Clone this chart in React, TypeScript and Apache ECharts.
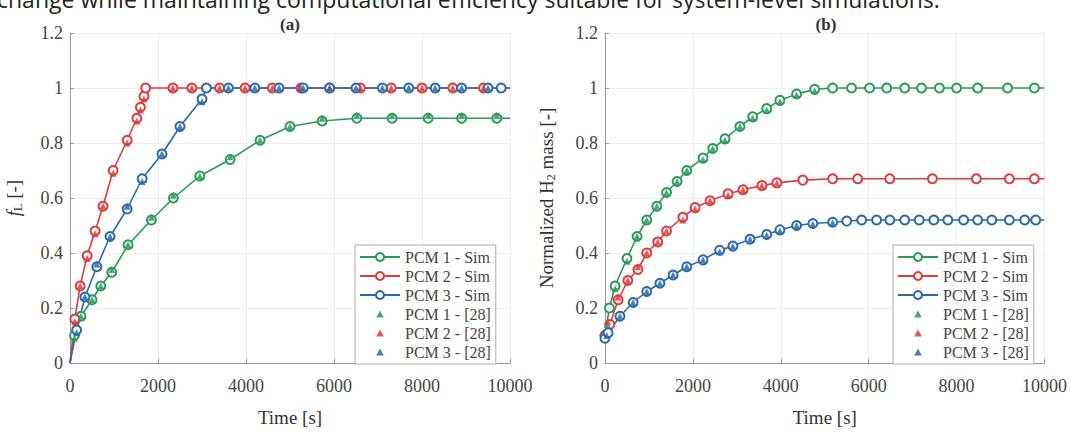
import React, { useEffect, useRef } from "react";
import * as echarts from "echarts";

const seriesNames = ["PCM 1 - Sim", "PCM 2 - Sim", "PCM 3 - Sim", "PCM 1 - [28]", "PCM 2 - [28]", "PCM 3 - [28]"];
const xTicksMax = 10000;
const yTicksMax = 1.2;

// (a) liquid fraction
const aGreenT = [0, 100, 250, 500, 700, 950, 1320, 1850, 2350, 2950, 3640, 4320, 5000, 5730, 6520, 7320, 8140, 8900, 9700, 10000];
const aGreenV = [0, 0.1, 0.17, 0.23, 0.28, 0.33, 0.43, 0.52, 0.6, 0.68, 0.74, 0.81, 0.86, 0.88, 0.89, 0.89, 0.89, 0.89, 0.89, 0.89];
const aRedT = [0, 110, 230, 390, 570, 750, 980, 1300, 1520, 1600, 1680, 1720, 2340, 2770, 3400, 3980, 4600, 5250, 5900, 6600, 7300, 8000, 8700, 9400, 10000];
const aRedV = [0, 0.16, 0.28, 0.39, 0.48, 0.57, 0.7, 0.81, 0.89, 0.93, 0.97, 1, 1, 1, 1, 1, 1, 1, 1, 1, 1, 1, 1, 1, 1];
const aBlueT = [0, 150, 340, 610, 910, 1300, 1640, 2090, 2500, 3000, 3100, 3600, 4200, 4750, 5300, 5900, 6500, 7100, 7700, 8300, 8900, 9500, 9800, 10000];
const aBlueV = [0, 0.12, 0.24, 0.35, 0.46, 0.56, 0.67, 0.76, 0.86, 0.96, 1, 1, 1, 1, 1, 1, 1, 1, 1, 1, 1, 1, 1, 1];
const aGreen28T = [100, 250, 500, 700, 950, 1320, 1850, 2350, 2950, 3640, 4320, 5000, 5730, 6520, 7320, 8140, 8900, 9700];
const aGreen28V = [0.09, 0.17, 0.23, 0.28, 0.34, 0.43, 0.53, 0.61, 0.68, 0.75, 0.81, 0.86, 0.89, 0.9, 0.9, 0.9, 0.9, 0.9];
const aRed28T = [110, 230, 390, 570, 750, 980, 1300, 1520, 1600, 1680, 2340, 2770, 3400, 3980, 4600, 5250, 5900, 6600, 7300, 8000, 8700, 9400];
const aRed28V = [0.15, 0.28, 0.38, 0.47, 0.57, 0.69, 0.8, 0.88, 0.92, 0.96, 1, 1, 1, 1, 1, 1, 1, 1, 1, 1, 1, 1];
const aBlue28T = [150, 340, 610, 910, 1300, 1640, 2090, 2500, 3000, 3600, 4200, 4750, 5300, 5900, 6500, 7100, 7700, 8300, 8900, 9500];
const aBlue28V = [0.11, 0.24, 0.36, 0.46, 0.57, 0.66, 0.76, 0.86, 0.95, 1, 1, 1, 1, 1, 1, 1, 1, 1, 1, 1];

// (b) normalized H2 mass
const bGreenT = [0, 100, 230, 500, 730, 950, 1180, 1400, 1640, 1860, 2230, 2450, 2730, 3070, 3360, 3680, 3980, 4360, 4770, 5180, 5610, 6020, 6410, 6820, 7200, 7610, 8000, 8480, 9160, 9770, 10000];
const bGreenV = [0.1, 0.2, 0.28, 0.38, 0.46, 0.52, 0.57, 0.62, 0.66, 0.7, 0.745, 0.78, 0.815, 0.86, 0.895, 0.925, 0.955, 0.978, 0.995, 1, 1, 1, 1, 1, 1, 1, 1, 1, 1, 1, 1];
const bRedT = [0, 110, 300, 520, 750, 950, 1200, 1400, 1770, 2050, 2390, 2800, 3140, 3570, 3910, 4500, 5180, 5750, 6480, 7450, 8450, 9200, 9770, 10000];
const bRedV = [0.1, 0.14, 0.23, 0.3, 0.34, 0.4, 0.44, 0.48, 0.53, 0.565, 0.59, 0.615, 0.63, 0.645, 0.655, 0.665, 0.67, 0.67, 0.67, 0.67, 0.67, 0.67, 0.67, 0.67];
const bBlueT = [0, 70, 340, 640, 950, 1250, 1550, 1860, 2230, 2610, 2910, 3300, 3680, 3980, 4360, 4730, 5180, 5500, 5840, 6180, 6480, 6820, 7150, 7480, 7800, 8160, 8480, 8800, 9200, 9550, 9800, 10000];
const bBlueV = [0.09, 0.11, 0.17, 0.22, 0.26, 0.29, 0.32, 0.35, 0.375, 0.41, 0.425, 0.45, 0.467, 0.484, 0.5, 0.507, 0.512, 0.516, 0.52, 0.52, 0.52, 0.52, 0.52, 0.52, 0.52, 0.52, 0.52, 0.52, 0.52, 0.52, 0.52, 0.52];
const bGreen28T = [50, 230, 500, 730, 950, 1180, 1400, 1640, 1860, 2230, 2450, 2730, 3070, 3360, 3680, 3980, 4360, 4770];
const bGreen28V = [0.14, 0.27, 0.37, 0.46, 0.52, 0.57, 0.62, 0.66, 0.7, 0.74, 0.78, 0.81, 0.86, 0.89, 0.92, 0.95, 0.975, 0.99];
const bRed28T = [60, 300, 520, 750, 950, 1200, 1400, 1770, 2050, 2390, 2800, 3140, 3570, 3910];
const bRed28V = [0.15, 0.24, 0.3, 0.35, 0.4, 0.44, 0.48, 0.52, 0.56, 0.59, 0.61, 0.63, 0.645, 0.655];
const bBlue28T = [40, 340, 640, 950, 1250, 1550, 1860, 2230, 2610, 2910, 3300, 3680, 3980, 4360, 4730, 5180];
const bBlue28V = [0.1, 0.17, 0.22, 0.26, 0.29, 0.32, 0.35, 0.375, 0.405, 0.425, 0.45, 0.465, 0.48, 0.5, 0.505, 0.51];

const GREEN = "#2a9a5a";
const RED = "#de3b3e";
const BLUE = "#2a6aa8";
const SERIF = "'Liberation Serif', 'Times New Roman', serif";
const TRI_ICON = "path://M-1.5,-2M11.5,11M5,0L10,9L0,9Z";

const zip = (t: number[], v: number[]) => t.map((x, i) => [x, v[i]]);
const simData = (t: number[], v: number[]) =>
  t.map((x, i) =>
    (i === t.length - 1 && x === 10000) || (x === 0 && v[i] === 0) ? { value: [x, v[i]], symbol: "none" } : [x, v[i]]
  );

function lineSeries(name: string, color: string, t: number[], v: number[], idx: number) {
  return {
    name,
    type: "line",
    xAxisIndex: idx,
    yAxisIndex: idx,
    data: simData(t, v),
    symbol: "emptyCircle",
    symbolSize: 9,
    showAllSymbol: true,
    lineStyle: { color, width: 1.6 },
    itemStyle: { color, borderColor: color, borderWidth: 1.6 },
    z: 2,
  };
}
function triSeries(name: string, color: string, t: number[], v: number[], idx: number) {
  return {
    name,
    type: "scatter",
    xAxisIndex: idx,
    yAxisIndex: idx,
    data: zip(t, v),
    symbol: "triangle",
    symbolSize: 7,
    itemStyle: { color, opacity: 0.85 },
    z: 3,
  };
}

function xAxis(idx: number) {
  return {
    type: "value",
    gridIndex: idx,
    min: 0,
    max: xTicksMax,
    interval: 2000,
    name: "Time [s]",
    nameLocation: "middle",
    nameGap: 45,
    nameTextStyle: { fontFamily: SERIF, fontSize: 19, color: "#333" },
    axisLine: { lineStyle: { color: "#999", width: 1 } },
    axisTick: { inside: true, length: 4, lineStyle: { color: "#999" } },
    axisLabel: { fontFamily: SERIF, fontSize: 18, color: "#444", margin: 14, formatter: (v: number) => String(v) },
    splitLine: { show: true, lineStyle: { color: "#eeeeee", width: 1 } },
  };
}
function yAxis(idx: number, name: string, gap: number) {
  return {
    type: "value",
    gridIndex: idx,
    min: 0,
    max: yTicksMax,
    interval: 0.2,
    name,
    nameLocation: "middle",
    nameGap: gap,
    nameTextStyle: {
      fontFamily: SERIF,
      fontSize: 19,
      color: "#333",
      rich: {
        i: { fontFamily: SERIF, fontSize: 19, fontStyle: "italic", color: "#333" },
        s: { fontFamily: SERIF, fontSize: 12, color: "#333", padding: [9, 0, 0, 0] },
        n: { fontFamily: SERIF, fontSize: 19, color: "#333" },
      },
    },
    axisLine: { show: true, lineStyle: { color: "#999", width: 1 } },
    axisTick: { show: true, inside: true, length: 4, lineStyle: { color: "#999" } },
    axisLabel: { fontFamily: SERIF, fontSize: 18, color: "#444", margin: 7 },
    splitLine: { show: true, lineStyle: { color: "#eeeeee", width: 1 } },
  };
}

function legend(left: number) {
  return {
    orient: "vertical",
    left,
    top: 245,
    data: seriesNames.map((n, i) => (i < 3 ? { name: n } : { name: n, icon: TRI_ICON })),
    itemWidth: 40,
    itemHeight: 10,
    itemGap: 3,
    padding: [4, 5, 4, 4],
    backgroundColor: "#fff",
    borderColor: "#aaa",
    borderWidth: 1,
    borderRadius: 0,
    textStyle: { fontFamily: SERIF, fontSize: 16, color: "#444" },
    selectedMode: false,
  };
}

export default function App() {
  const ref = useRef<HTMLDivElement>(null);
  useEffect(() => {
    if (!ref.current) return;
    const chart = echarts.init(ref.current, undefined, { renderer: "svg" });
    chart.setOption({
      animation: false,
      backgroundColor: "#fff",
      grid: [
        { left: 70, top: 33, width: 440, height: 343 },
        { left: 605, top: 33, width: 440, height: 344 },
      ],
      xAxis: [xAxis(0), xAxis(1)],
      yAxis: [
        yAxis(0, "{i|f}{s|L}{n| [-]}", 46),
        yAxis(1, "{n|Normalized H}{s|2}{n| mass [-]}", 48),
      ],
      legend: [legend(355), legend(893)],
      graphic: [
        {
          type: "text",
          x: -3,
          y: -1,
          style: {
            text: "change while maintaining computational efficiency suitable for system-level simulations.",
            font: "23px 'Open Sans', sans-serif",
            fill: "#222",
            verticalAlign: "middle",
          },
        },
        {
          type: "text",
          x: 290,
          y: 24,
          style: { text: "(a)", font: `bold 17px ${SERIF}`, fill: "#333", align: "center", verticalAlign: "middle" },
        },
        {
          type: "text",
          x: 826,
          y: 24,
          style: { text: "(b)", font: `bold 17px ${SERIF}`, fill: "#333", align: "center", verticalAlign: "middle" },
        },
      ],
      series: [
        lineSeries(seriesNames[0], GREEN, aGreenT, aGreenV, 0),
        lineSeries(seriesNames[1], RED, aRedT, aRedV, 0),
        lineSeries(seriesNames[2], BLUE, aBlueT, aBlueV, 0),
        triSeries(seriesNames[3], GREEN, aGreen28T, aGreen28V, 0),
        triSeries(seriesNames[4], RED, aRed28T, aRed28V, 0),
        triSeries(seriesNames[5], BLUE, aBlue28T, aBlue28V, 0),
        lineSeries(seriesNames[0], GREEN, bGreenT, bGreenV, 1),
        lineSeries(seriesNames[1], RED, bRedT, bRedV, 1),
        lineSeries(seriesNames[2], BLUE, bBlueT, bBlueV, 1),
        triSeries(seriesNames[3], GREEN, bGreen28T, bGreen28V, 1),
        triSeries(seriesNames[4], RED, bRed28T, bRed28V, 1),
        triSeries(seriesNames[5], BLUE, bBlue28T, bBlue28V, 1),
      ],
    });
    return () => chart.dispose();
  }, []);
  return <div ref={ref} style={{ position: "absolute", left: 0, top: 0, width: 1070, height: 432 }} />;
}
